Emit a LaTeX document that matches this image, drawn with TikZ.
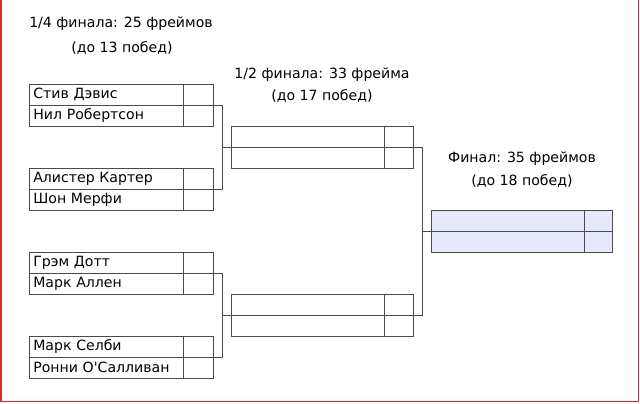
\documentclass[tikz,border=0pt]{standalone}
\usepackage{fontspec}
\setmainfont{DejaVu Sans}
\definecolor{gridline}{HTML}{4A4A4A}
\definecolor{finalfill}{HTML}{E6E9FC}
\definecolor{framered}{HTML}{E02828}
\tikzset{
    namecell/.style={draw=gridline, line width=.6pt, anchor=north west, minimum width=154pt, minimum height=21pt,
        text width=146pt, inner xsep=3pt, inner ysep=0pt, align=left},
    scorecell/.style={draw=gridline, line width=.6pt, anchor=north west, minimum width=30pt, minimum height=21pt, inner sep=0pt},
    roundtitle/.style={inner sep=0pt},
    bracket/.style={draw=gridline, line width=.6pt}
}
\begin{document}
\begin{tikzpicture}[x=1pt,y=-1pt,font=\fontsize{14.1}{16}\selectfont]
        \useasboundingbox (0,0) rectangle (640,404);
        % frame
        \draw[framered, line width=1.6pt] (.8,-2) -- (.8,401.6) -- (638.6,401.6) -- (638.6,-2);
        % titles
        \node[roundtitle] (t1) at (121,24) {1/4 финала: 25 фреймов};
        \node[roundtitle] (t1b) at (122,48) {(до 13 побед)};
        \node[roundtitle] (t2) at (322,75) {1/2 финала: 33 фрейма};
        \node[roundtitle] (t2b) at (322,96) {(до 17 побед)};
        \node[roundtitle] (t3) at (522,159) {Финал: 35 фреймов};
        \node[roundtitle] (t3b) at (522,181) {(до 18 побед)};
        % quarter finals
        \foreach \i/\y/\pa/\pb in {1/84/Стив Дэвис/Нил Робертсон,
                                   2/168/Алистер Картер/Шон Мерфи,
                                   3/252/Грэм Дотт/Марк Аллен,
                                   4/336/Марк Селби/Ронни О\textquotesingle Салливан}
            {
                \node[namecell] (q\i a) at (29,\y) {\pa};
                \node[namecell] (q\i b) at (29,\y+21) {\pb};
                \node[scorecell] (q\i as) at (183,\y) {};
                \node[scorecell] (q\i bs) at (183,\y+21) {};
            }
        % semi finals
        \foreach \i/\y in {1/126,2/294}
            {
                \node[namecell, minimum width=153pt] (s\i a) at (231,\y) {};
                \node[namecell, minimum width=153pt] (s\i b) at (231,\y+21) {};
                \node[scorecell, minimum width=29pt] (s\i as) at (384,\y) {};
                \node[scorecell, minimum width=29pt] (s\i bs) at (384,\y+21) {};
            }
        % final
        \node[namecell, fill=finalfill, minimum width=153pt] (fa) at (431,210) {};
        \node[namecell, fill=finalfill, minimum width=153pt] (fb) at (431,231) {};
        \node[scorecell, fill=finalfill, minimum width=28pt] (fas) at (584,210) {};
        \node[scorecell, fill=finalfill, minimum width=28pt] (fbs) at (584,231) {};
        % brackets
        \draw[bracket] (q1as.south east) -- ++(9,0) coordinate (b1) |- (q2as.south east);
        \draw[bracket] (b1 |- s1as.south) -- (s1a.south west);
        \draw[bracket] (q3as.south east) -- ++(9,0) coordinate (b2) |- (q4as.south east);
        \draw[bracket] (b2 |- s2as.south) -- (s2a.south west);
        \draw[bracket] (s1as.south east) -- ++(9,0) coordinate (b3) |- (s2as.south east);
        \draw[bracket] (b3 |- fas.south) -- (fa.south west);
    \end{tikzpicture}
\end{document}
